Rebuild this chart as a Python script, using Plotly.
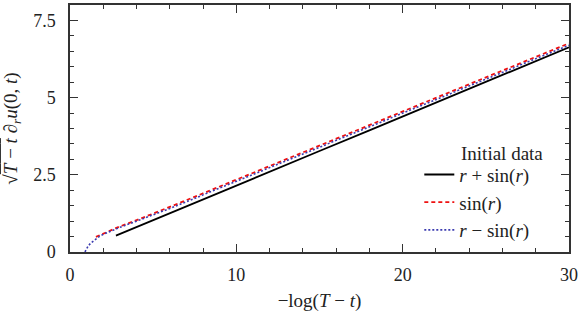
import plotly.graph_objects as go

# r + sin(r)
x_rpsin = [2.76, 4, 6, 8, 10, 12, 15, 18, 21, 24, 27, 30]
y_rpsin = [0.53, 0.81, 1.26, 1.71, 2.15, 2.60, 3.27, 3.94, 4.61, 5.29, 5.96, 6.63]

# sin(r)
x_sin = [1.56, 2, 2.5, 3, 4, 5, 6, 8, 10, 12, 15, 18, 21, 24, 27, 30]
y_sin = [0.49, 0.60, 0.72, 0.83, 1.03, 1.24, 1.46, 1.90, 2.34, 2.79, 3.45, 4.11, 4.78, 5.44, 6.10, 6.76]

# r - sin(r)
x_rmsin = [0.9, 1.0, 1.1, 1.25, 1.5, 1.75, 2, 2.5, 3, 4, 5, 6, 8, 10, 12, 15, 18, 21, 24, 27, 30]
y_rmsin = [0.0, 0.12, 0.20, 0.29, 0.41, 0.50, 0.57, 0.69, 0.80, 1.00, 1.20, 1.41, 1.85, 2.29, 2.73, 3.39, 4.05, 4.71, 5.38, 6.04, 6.70]

x_ticks = [0, 10, 20, 30]
y_ticks = [0, 2.5, 5, 7.5]
y_tick_labels = ["0", "2.5", "5", "7.5"]

FONT = "Liberation Serif"
AX = "#333333"
TXT = "#222222"

fig = go.Figure()
fig.add_trace(go.Scatter(x=x_rpsin, y=y_rpsin, mode="lines", name="<i>r</i> + sin(<i>r</i>)",
                         line=dict(color="black", width=1.8, dash="solid")))
fig.add_trace(go.Scatter(x=x_sin, y=y_sin, mode="lines", name="sin(<i>r</i>)",
                         line=dict(color="#ee1111", width=1.8, dash="4px,3px")))
fig.add_trace(go.Scatter(x=x_rmsin, y=y_rmsin, mode="lines", name="<i>r</i> − sin(<i>r</i>)",
                         line=dict(color="#3b3bb0", width=1.6, dash="2px,2px")))

axis_common = dict(
    showgrid=False, zeroline=False, showline=True, linecolor=AX, linewidth=1.5,
    mirror="ticks", ticks="inside", ticklen=8, tickwidth=1.2, tickcolor=AX,
    tickfont=dict(family=FONT, size=18, color=TXT),
)

fig.update_xaxes(range=[0, 30], tickvals=x_ticks, ticklabelstandoff=6,
                 minor=dict(dtick=2, ticks="inside", ticklen=4, tickcolor=AX, tickwidth=1.2),
                 title=dict(text="−log(<i>T</i> − <i>t</i>)", font=dict(family=FONT, size=19, color=TXT), standoff=9),
                 **axis_common)
fig.update_yaxes(range=[0, 8], tickvals=y_ticks, ticktext=y_tick_labels, ticklabelstandoff=9,
                 minor=dict(dtick=0.5, ticks="inside", ticklen=4, tickcolor=AX, tickwidth=1.2),
                 title=dict(text="√<span style='text-decoration:overline'><i>T</i> − <i>t</i></span> ∂<sub><i>r</i></sub><i>u</i>(0, <i>t</i>)",
                            font=dict(family=FONT, size=19, color=TXT), standoff=12),
                 **axis_common)

fig.add_annotation(x=0.78, y=0.40, xref="paper", yref="paper", xanchor="left", yanchor="middle",
                   text="Initial data", showarrow=False, font=dict(family=FONT, size=19, color=TXT))

fig.update_layout(
    width=581, height=315,
    margin=dict(l=70, r=11, t=3, b=63),
    plot_bgcolor="white", paper_bgcolor="white",
    font=dict(family=FONT, size=19, color=TXT),
    showlegend=True,
    legend=dict(x=0.70, y=0.39, xanchor="left", yanchor="top", bgcolor="rgba(0,0,0,0)",
                font=dict(family=FONT, size=19, color=TXT), tracegroupgap=0, itemwidth=30),
)

fig.write_html("out.html", config={"displayModeBar": False},
               post_script="document.body.style.margin='0';document.body.style.padding='0';")
